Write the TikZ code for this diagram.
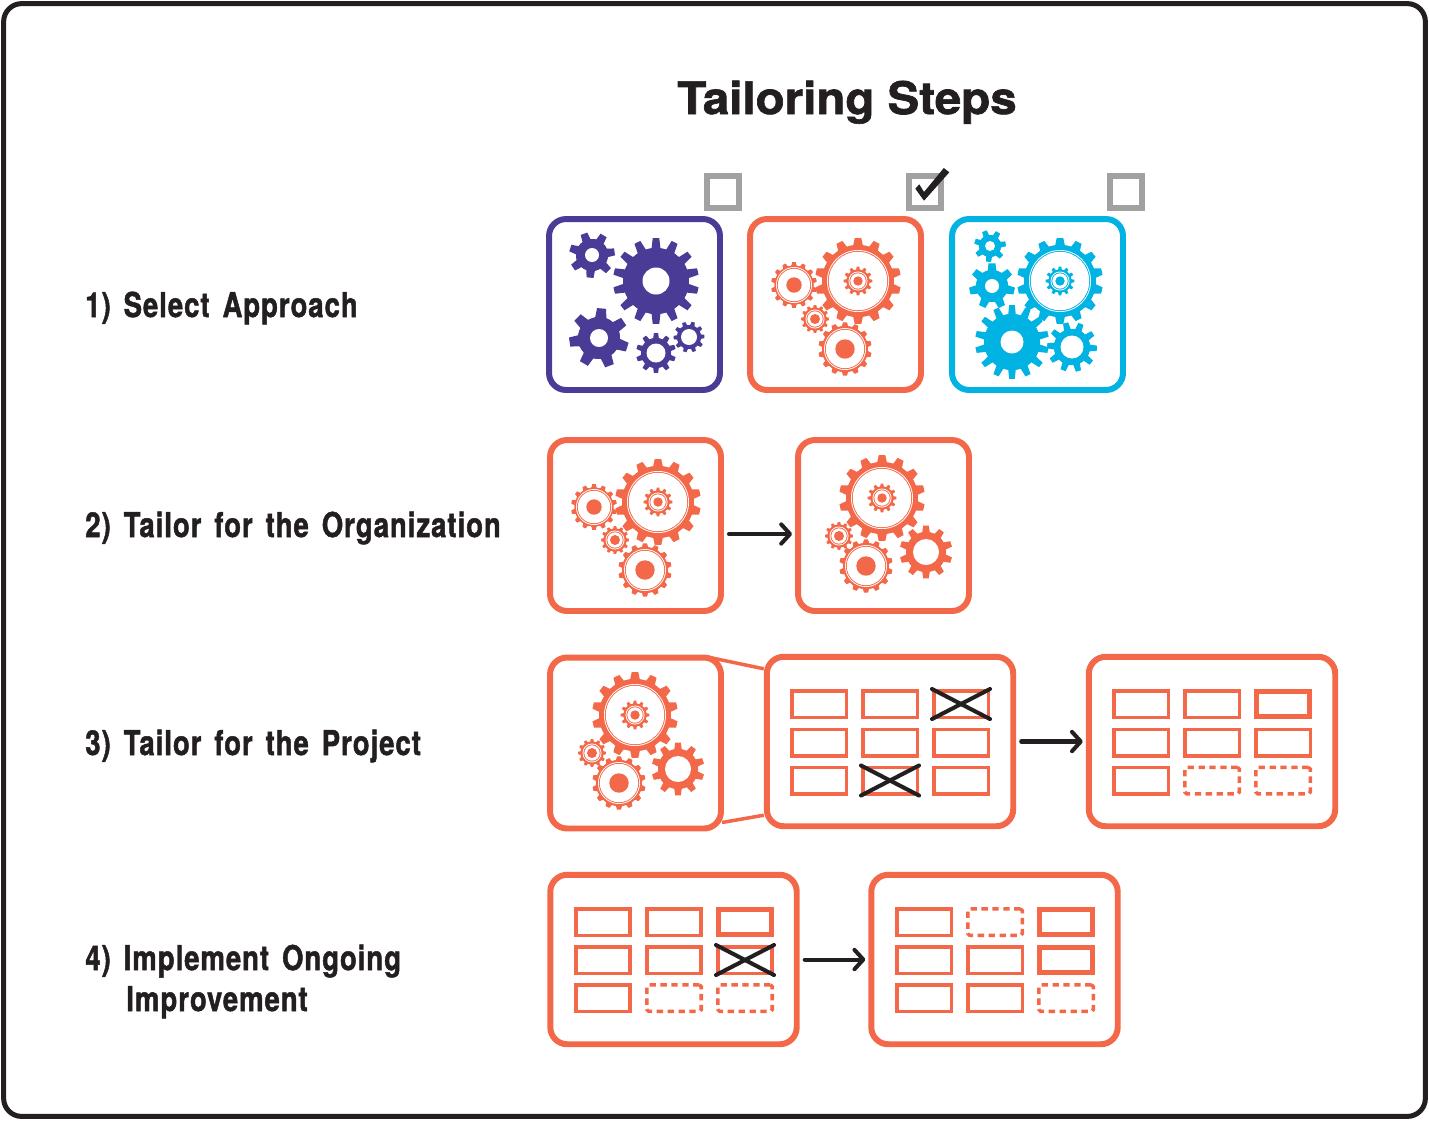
\documentclass[tikz,border=0pt]{standalone}
\usepackage{fontspec}
\usepackage{tikz}
\usetikzlibrary{arrows.meta}
\setmainfont{TeX Gyre Heros}
\newfontfamily\labelfont[FakeStretch=0.80,FakeBold=1.4,LetterSpace=3,WordSpace=1.5]{TeX Gyre Heros Bold}
\newfontfamily\titlefont[FakeStretch=1.06,FakeBold=1.5]{TeX Gyre Heros Bold}

\definecolor{darkink}{HTML}{231F20}
\definecolor{coral}{HTML}{F26849}
\definecolor{indigo}{HTML}{4A3C96}
\definecolor{skyblue}{HTML}{00B3E3}
\definecolor{boxgray}{HTML}{A1A1A1}

% colour, x, y, outer radius, root radius, teeth, hole radius, rotation
\newcommand{\cog}[8]{%
    \begin{scope}[shift={(#2,#3)}]
        \pgfmathsetmacro{\pitch}{360/#6}
        \fill[#1] (0,0) circle[radius=#5];
        \fill[#1] (#8+0.5*\pitch:#5)
            \foreach \i [evaluate=\i as \a using #8+\i*\pitch] in {1,...,#6} {
                -- (\a-0.30*\pitch:#5) -- (\a-0.17*\pitch:#4)
                -- (\a+0.17*\pitch:#4) -- (\a+0.30*\pitch:#5)
                -- (\a+0.5*\pitch:#5)
            } -- cycle;
        \fill[white] (0,0) circle[radius=#7];
    \end{scope}%
}
% colour, x, y, outer radius, root radius, teeth, ring radius, rotation
\newcommand{\ringcog}[8]{%
    \cog{#1}{#2}{#3}{#4}{#5}{#6}{#7}{#8}
    \fill[#1] (#2,#3) circle[radius=#7-0.9];
    \fill[white] (#2,#3) circle[radius=#7-1.8];
}
% parts of the coral gear set, moved by dx, dy
\newcommand{\bigcog}[2]{%
    \begin{scope}[shift={(#1,#2)}]
        \ringcog{coral}{858}{281}{43}{36}{14}{31}{90}
        \ringcog{coral}{858}{281}{14.5}{11.5}{12}{9.5}{90}
        \fill[coral] (858,281) circle[radius=4.7];
    \end{scope}%
}
\newcommand{\lowcog}[2]{%
    \begin{scope}[shift={(#1,#2)}]
        \ringcog{coral}{845}{349}{26.7}{23}{14}{21}{90}
        \fill[coral] (845,349) circle[radius=9.7];
    \end{scope}%
}
\newcommand{\tinycog}[2]{%
    \begin{scope}[shift={(#1,#2)}]
        \ringcog{coral}{815}{319}{14}{11.5}{12}{9.5}{90}
        \fill[coral] (815,319) circle[radius=5];
    \end{scope}%
}

\begin{document}
\begin{tikzpicture}[%
    x=0.02cm,
    y=-0.02cm,
    frame/.style={%
        draw=darkink,
        line width=2.85pt,
        rounded corners=0.36cm,
        minimum width=28.44cm,
        minimum height=22.26cm
    },
    panel/.style={%
        draw=#1,
        fill=white,
        line width=3.4pt,
        rounded corners=0.34cm,
        minimum width=3.42cm,
        minimum height=3.42cm
    },
    widepanel/.style={%
        panel=coral,
        minimum width=4.93cm,
        minimum height=3.39cm
    },
    slot/.style={%
        draw=coral,
        line width=2pt,
        minimum width=1.09cm,
        minimum height=0.53cm,
        inner sep=0pt
    },
    thickslot/.style={%
        slot,
        line width=3pt,
        minimum width=1.05cm,
        minimum height=0.49cm
    },
    dashslot/.style={%
        slot,
        dash pattern=on 3.6pt off 2.6pt,
        rounded corners=1pt
    },
    tickbox/.style={%
        draw=boxgray,
        line width=3.6pt,
        minimum size=0.63cm,
        inner sep=0pt
    },
    steplabel/.style={%
        anchor=base west,
        inner sep=0pt,
        text=darkink,
        font={\labelfont\fontsize{19.5}{23.3}\selectfont},
        align=left
    },
    titlelabel/.style={%
        anchor=base,
        inner sep=0pt,
        text=darkink,
        font={\titlefont\fontsize{25.5}{30}\selectfont}
    },
    flow/.style={%
        -{Straight Barb[length=5pt,width=11pt,round]},
        draw=darkink,
        line width=2.3pt,
        line cap=round,
        shorten <=0.1cm,
        shorten >=0.06cm
    },
    crossline/.style={%
        draw=darkink,
        line width=2.3pt,
        line cap=round
    },
    zoomline/.style={%
        draw=coral,
        line width=2pt
    }
]
\useasboundingbox (0,0) rectangle (1429,1120);

% Frame and title
    \node[frame] (border) at (714.5,560) {};
    \node[titlelabel] (title) at (847,114) {Tailoring Steps};

% Labels
    \node[steplabel] (label1) at (85,317) {1) Select Approach};
    \node[steplabel] (label2) at (85,537) {2) Tailor for the Organization};
    \node[steplabel] (label3) at (85,755) {3) Tailor for the Project};
    \node[steplabel] (label4) at (85,1011) {4) Implement Ongoing\\\hspace*{0.82cm}Improvement};

% Step 1
    \node[tickbox] (tick1) at (723,192) {};
    \node[tickbox] (tick2) at (925,192) {};
    \node[tickbox] (tick3) at (1126,192) {};
    \node[panel=indigo] (select1) at (634.5,304.5) {};
    \node[panel=coral] (select2) at (835.5,304.5) {};
    \node[panel=skyblue] (select3) at (1037.5,304.5) {};
    \fill[darkink] (915.3,188.7) -- (919.3,184.3) -- (924,192) -- (943.8,168) -- (949.3,172.3) -- (924,200.7) -- cycle;

% Step 2
    \node[panel=coral] (org1) at (635.5,525.5) {};
    \node[panel=coral] (org2) at (883.5,525.5) {};

% Step 3
    \node[panel=coral] (proj1) at (635.5,743) {};
    \node[widepanel] (tableA) at (890,741.5) {};
    \node[widepanel] (tableB) at (1212,741.5) {};

% Step 4
    \node[widepanel] (imprA) at (673.5,959.5) {};
    \node[widepanel] (imprB) at (994.5,959.5) {};

% Indigo gears
    \cog{indigo}{656}{281}{43}{33}{14}{13.5}{90}
    \cog{indigo}{592}{255}{23}{16}{7}{7}{95}
    \cog{indigo}{599}{338}{30}{21}{7}{9}{-85}
    \cog{indigo}{656}{353}{20}{15}{10}{9.5}{90}
    \cog{indigo}{689}{337}{15.5}{12}{10}{8}{70}

% Blue gears
    \ringcog{skyblue}{1060}{281}{43}{36}{14}{31}{90}
    \ringcog{skyblue}{1060}{281}{14.5}{11.5}{12}{9.5}{90}
    \fill[skyblue] (1060,281) circle[radius=4.7];
    \cog{skyblue}{990}{246}{16}{11}{7}{5}{95}
    \cog{skyblue}{992}{286}{23}{16}{7}{7}{-90}
    \cog{skyblue}{1012}{342}{37}{28}{14}{11.5}{90}
    \cog{skyblue}{1072}{347}{25}{18}{10}{11.5}{75}

% Coral gears
    \bigcog{0}{0}
    \lowcog{0}{0}
    \tinycog{0}{0}
    \ringcog{coral}{794}{285}{23}{19.5}{14}{18}{90}
    \fill[coral] (794,285) circle[radius=7.7];

    \bigcog{-200}{221}
    \lowcog{-200}{221}
    \tinycog{-200}{221}
    \ringcog{coral}{594}{507}{23}{19.5}{14}{18}{90}
    \fill[coral] (594,507) circle[radius=7.7];

    \bigcog{24}{217}
    \lowcog{21}{217}
    \tinycog{24}{217}
    \cog{coral}{926}{552}{26.5}{20}{10}{13}{90}

    \bigcog{-223}{434}
    \lowcog{-226}{434}
    \tinycog{-223}{434}
    \cog{coral}{678}{769}{26.5}{20}{10}{13}{90}

% Slots of the first project table
    \node[slot] (a11) at (819,704) {};
    \node[slot] (a12) at (890,704) {};
    \node[slot] (a13) at (961,704) {};
    \node[slot] (a21) at (819,742.5) {};
    \node[slot] (a22) at (890,742.5) {};
    \node[slot] (a23) at (961,742.5) {};
    \node[slot] (a31) at (819,780.5) {};
    \node[slot] (a32) at (890,780.5) {};
    \node[slot] (a33) at (961,780.5) {};

% Slots of the second project table
    \node[slot] (b11) at (1141,704) {};
    \node[slot] (b12) at (1212,704) {};
    \node[thickslot] (b13) at (1283,704) {};
    \node[slot] (b21) at (1141,742.5) {};
    \node[slot] (b22) at (1212,742.5) {};
    \node[slot] (b23) at (1283,742.5) {};
    \node[slot] (b31) at (1141,780.5) {};
    \node[dashslot] (b32) at (1212,780.5) {};
    \node[dashslot] (b33) at (1283,780.5) {};

% Slots of the first improvement table
    \node[slot] (c11) at (603,922) {};
    \node[slot] (c12) at (674,922) {};
    \node[thickslot] (c13) at (745,922) {};
    \node[slot] (c21) at (603,960) {};
    \node[slot] (c22) at (674,960) {};
    \node[slot] (c23) at (745,960) {};
    \node[slot] (c31) at (603,998) {};
    \node[dashslot] (c32) at (674,998) {};
    \node[dashslot] (c33) at (745,998) {};

% Slots of the second improvement table
    \node[slot] (d11) at (924,922) {};
    \node[dashslot] (d12) at (995,922) {};
    \node[thickslot] (d13) at (1066,922) {};
    \node[slot] (d21) at (924,960) {};
    \node[slot] (d22) at (995,960) {};
    \node[thickslot] (d23) at (1066,960) {};
    \node[slot] (d31) at (924,998) {};
    \node[slot] (d32) at (995,998) {};
    \node[dashslot] (d33) at (1066,998) {};

% Crosses
\draw[crossline] (a13.north west) -- (a13.south east);
\draw[crossline] (a13.south west) -- (a13.north east);
\draw[crossline] (a32.north west) -- (a32.south east);
\draw[crossline] (a32.south west) -- (a32.north east);
\draw[crossline] (c23.north west) -- (c23.south east);
\draw[crossline] (c23.south west) -- (c23.north east);

% Arrows
\draw[flow] ([yshift=-0.17cm]org1.east) -- ([yshift=-0.17cm]org2.west);
\draw[flow] (tableA.east) -- (tableB.west);
\draw[flow] (imprA.east) -- (imprB.west);

% Lines from the gear panel to the table
\draw[zoomline] ([shift={(-0.28cm,-0.06cm)}]proj1.north east) -- ([yshift=-0.3cm]tableA.north west);
\draw[zoomline] ([shift={(-0.04cm,0.18cm)}]proj1.south east) -- ([yshift=0.28cm]tableA.south west);

\end{tikzpicture}
\end{document}
